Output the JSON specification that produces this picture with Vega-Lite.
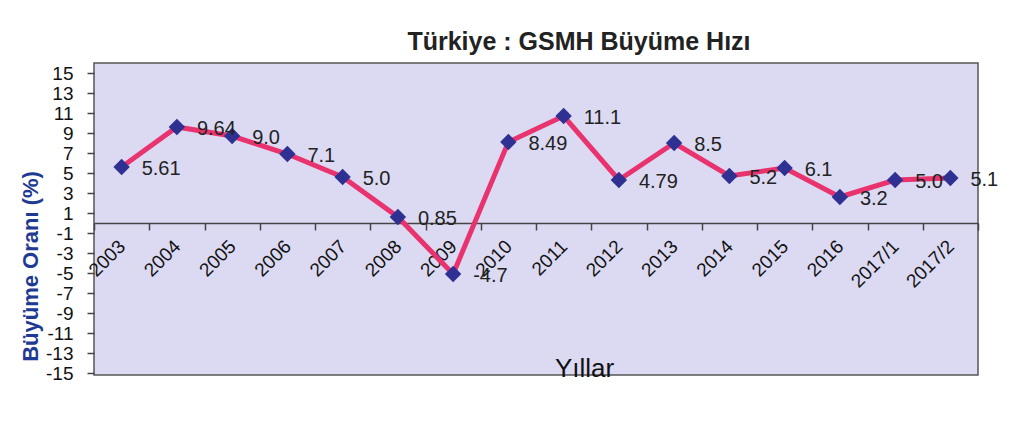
{
  "$schema": "https://vega.github.io/schema/vega-lite/v6.json",
  "width": 884,
  "height": 312,
  "autosize": "none",
  "padding": {"left": 94, "top": 63, "right": 43, "bottom": 56},
  "background": "white",
  "title": {"text": "Türkiye : GSMH Büyüme Hızı", "fontSize": 25, "font": "Liberation Sans", "fontWeight": "bold", "color": "#222222", "dx": 43, "offset": 8},
  "config": {"view": {"fill": "#DCDAF2", "stroke": "#555555", "strokeWidth": 1.5}},
  "data": {"values": [
    {"period": "2003", "value": 5.6, "label": "5.61"},
    {"period": "2004", "value": 9.6, "label": "9.64"},
    {"period": "2005", "value": 8.7, "label": "9.0"},
    {"period": "2006", "value": 6.9, "label": "7.1"},
    {"period": "2007", "value": 4.6, "label": "5.0"},
    {"period": "2008", "value": 0.6, "label": "0.85"},
    {"period": "2009", "value": -5.1, "label": "-4.7"},
    {"period": "2010", "value": 8.1, "label": "8.49"},
    {"period": "2011", "value": 10.7, "label": "11.1"},
    {"period": "2012", "value": 4.3, "label": "4.79"},
    {"period": "2013", "value": 8.0, "label": "8.5"},
    {"period": "2014", "value": 4.7, "label": "5.2"},
    {"period": "2015", "value": 5.5, "label": "6.1"},
    {"period": "2016", "value": 2.6, "label": "3.2"},
    {"period": "2017/1", "value": 4.3, "label": "5.0"},
    {"period": "2017/2", "value": 4.5, "label": "5.1"}
  ]},
  "encoding": {
    "x": {
      "field": "period", "type": "ordinal", "sort": null,
      "scale": {"type": "band", "paddingInner": 0, "paddingOuter": 0},
      "axis": {
        "orient": "bottom", "offset": -152, "labelAngle": -45, "labelAlign": "right", "labelBaseline": "middle",
        "labelFontSize": 19, "labelFont": "Liberation Sans", "labelColor": "#111111", "labelOverlap": false, "labelPadding": 13,
        "tickSize": 7, "tickBand": "extent", "tickColor": "#444444", "tickWidth": 1.5,
        "domainColor": "#444444", "domainWidth": 1.5,
        "title": "Yıllar", "titleFontSize": 26, "titleFont": "Liberation Sans", "titleFontWeight": "normal", "titleColor": "#111111",
        "titleX": 490, "titleY": 153, "titleBaseline": "alphabetic", "titleAlign": "center"
      }
    },
    "y": {
      "field": "value", "type": "quantitative",
      "scale": {"domain": [-15.2, 16], "nice": false, "zero": false},
      "axis": {
        "values": [-15, -13, -11, -9, -7, -5, -3, -1, 1, 3, 5, 7, 9, 11, 13, 15],
        "labelExpr": "'' + datum.value", "labelOverlap": false,
        "labelFontSize": 19, "labelFont": "Liberation Sans", "labelColor": "#111111", "labelPadding": 14,
        "tickSize": 7, "tickColor": "#444444", "tickWidth": 1.5, "domain": false, "grid": false,
        "title": "Büyüme Oranı (%)", "titleFontSize": 22, "titleFont": "Liberation Sans", "titleFontWeight": "bold", "titleColor": "#1F3A93",
        "titleAngle": 270, "titleX": -64, "titleY": 203, "titleAlign": "center", "titleBaseline": "middle"
      }
    }
  },
  "layer": [
    {"mark": {"type": "line", "color": "#E8336E", "strokeWidth": 5}},
    {"mark": {"type": "point", "shape": "diamond", "filled": true, "color": "#2E3192", "size": 270, "opacity": 1}},
    {"mark": {"type": "text", "align": "left", "baseline": "middle", "dx": 20, "dy": 2, "fontSize": 20, "font": "Liberation Sans", "color": "#222222"}, "encoding": {"text": {"field": "label"}}}
  ]
}
